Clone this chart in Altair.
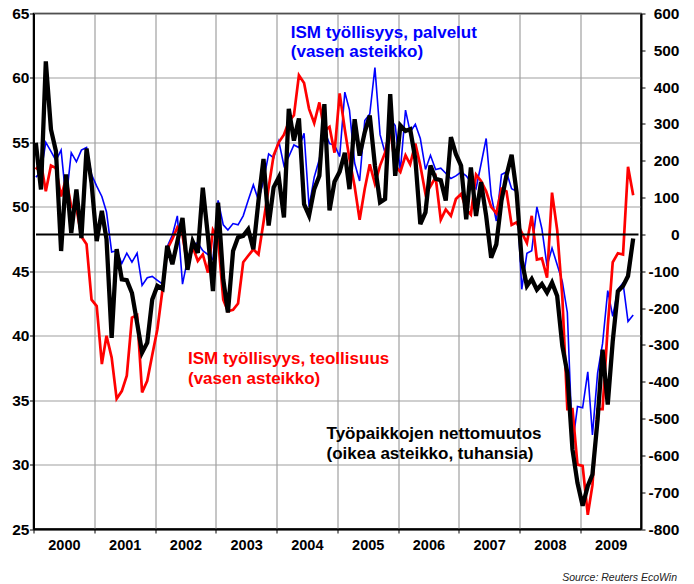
import altair as alt
import pandas as pd

# ISM employment, services (left axis)
ism_services = [
    52.3, 52.7, 55.0, 54.3, 53.6, 54.4, 50.5, 54.2, 53.5, 54.4, 54.6, 52.5,
    51.6, 50.8, 49.6, 46.5, 46.6, 45.6, 46.4, 45.7, 46.4, 43.9, 44.5, 44.6,
    44.3, 44.0, 46.9, 47.8, 49.3, 44.0, 45.9, 47.1, 47.2, 46.6, 46.3, 45.9,
    50.5, 48.6, 48.2, 48.7, 48.6, 49.3, 50.5, 51.7, 50.5, 52.0, 54.1, 53.8,
    55.1, 53.2, 53.9, 54.8, 54.6, 55.7, 50.0, 52.3, 53.7, 55.9, 54.9, 54.8,
    53.9, 58.9, 57.5, 53.4, 52.0, 56.7, 57.2, 60.8, 55.6, 54.2, 56.8, 56.3,
    52.8, 57.5, 55.8, 56.4, 55.3, 52.9, 54.0, 52.9, 53.0, 52.6, 52.2, 52.4,
    52.7, 52.4, 51.9, 51.4, 53.3, 55.3, 50.9, 48.9, 52.5, 52.7, 51.4, 51.2,
    43.6, 46.4, 46.6, 50.0, 48.3, 45.4, 46.8, 45.5, 44.2, 41.8, 31.5, 34.5,
    34.4, 37.2, 32.3, 37.1, 39.4, 43.5, 41.5, 43.6, 44.1, 41.1, 41.6,
]

# ISM employment, manufacturing (left axis)
ism_manufacturing = [
    52.9, 53.4, 51.2, 53.2, 53.0, 50.8, 52.2, 50.0, 49.9, 47.7, 47.1, 42.8,
    42.3, 37.8, 40.0, 38.3, 35.1, 35.7, 36.9, 41.4, 41.6, 35.6, 36.5, 38.5,
    40.5, 43.6, 46.7, 47.5, 48.4, 47.8, 45.4, 46.9, 45.8, 46.3, 44.9, 48.2,
    47.5, 42.8, 41.9, 42.0, 42.5, 45.7, 46.2, 46.7, 46.3, 48.8, 51.5, 54.0,
    55.0, 55.6, 56.6, 57.1, 60.2, 59.6, 57.6, 56.5, 58.1, 55.9, 56.2, 54.2,
    58.8, 56.0, 53.7, 51.6, 49.0, 51.4, 53.3, 51.8, 53.2, 54.2, 56.0, 53.2,
    52.7, 54.0, 53.3, 54.9, 53.2, 51.0, 51.6, 52.3, 49.0, 49.8, 49.3, 50.6,
    51.0, 49.8, 49.4, 52.5, 52.0, 51.2, 50.0, 49.5, 51.4, 51.2, 48.6, 48.8,
    48.0, 47.2, 49.3, 45.9, 46.0, 44.5, 51.1, 48.2, 43.0, 34.3, 34.3, 30.0,
    29.9, 26.1, 28.4, 34.3, 34.3, 40.7, 45.7, 46.4, 46.3, 53.1, 50.9,
]

# Net change in payrolls, thousands (right axis)
payrolls = [
    249, 122, 470, 285, 226, -45, 163, 4, 122, -10, 233, 140,
    -18, 64, -13, -281, -40, -122, -124, -159, -240, -321, -294, -177,
    -140, -148, -31, -81, -19, 45, -96, -19, -50, 127, -5, -154,
    86, -122, -212, -45, -8, -4, 14, -40, 92, 205, 24, 128,
    155, 46, 341, 255, 315, 82, 51, 123, 159, 354, 65, 143,
    170, 222, 123, 313, 214, 278, 323, 187, 87, 96, 381, 159,
    296, 281, 286, 205, 28, 60, 187, 151, 147, 92, 264, 218,
    187, 41, 182, 50, 142, 50, -63, -27, 92, 160, 216, 114,
    -72, -140, -121, -150, -135, -158, -131, -167, -303, -376, -584, -675,
    -737, -683, -652, -503, -313, -462, -290, -154, -140, -113, -11,
]

years = list(range(2000, 2010))
left_ticks = list(range(25, 70, 5))
right_ticks = list(range(-800, 700, 100))

dates = pd.date_range("2000-01-01", periods=len(payrolls), freq="MS") + pd.Timedelta(days=14)
df = pd.DataFrame({
    "date": dates,
    "services": ism_services,
    "manufacturing": ism_manufacturing,
    "payrolls": payrolls,
})
long = df.melt(id_vars=["date"], value_vars=["services", "manufacturing"],
               var_name="series", value_name="value")

W, H = 607.5, 515.5
FONT = "Liberation Sans"

x_enc = alt.X(
    "date:T",
    scale=alt.Scale(domain=[alt.DateTime(year=2000, month=1, date=1),
                            alt.DateTime(year=2010, month=1, date=1)]),
    axis=alt.Axis(
        title=None, format="%Y",
        values=[alt.DateTime(year=y, month=1, date=1) for y in years],
        labelOffset=W / 20, labelFlush=False, labelOverlap=False,
        grid=True, tickSize=4, labelPadding=5.5, labelFontSize=14.5,
        domainWidth=2,
    ),
)

left_scale = alt.Scale(domain=[25, 65], nice=False, zero=False)
left_axis = alt.Axis(
    title=None, values=left_ticks, grid=True, tickSize=4, labelPadding=0.5,
    labelFontSize=15.5, domainWidth=2,
)

right_scale = alt.Scale(domain=[-800, 600], nice=False, zero=False)
right_axis = alt.Axis(
    title=None, orient="right", values=right_ticks, grid=False, tickSize=4,
    labelAlign="right", labelPadding=34, labelFontSize=15.5, domainWidth=2,
    labelExpr="datum.value < 0 ? '-' + abs(datum.value) : '' + datum.value",
)

blue = alt.Chart(long).transform_filter(alt.datum.series == "services").mark_line(
    color="#0000ff", strokeWidth=1.6
).encode(x=x_enc, y=alt.Y("value:Q", scale=left_scale, axis=left_axis))

red = alt.Chart(long).transform_filter(alt.datum.series == "manufacturing").mark_line(
    color="#ff0000", strokeWidth=2.7
).encode(x=x_enc, y=alt.Y("value:Q", scale=left_scale, axis=left_axis))

ann = pd.DataFrame({
    "date": ["2004-03-27", "2004-03-27", "2002-07-18", "2002-07-18", "2004-10-28", "2004-10-28"],
    "value": [63.49, 62.02, 38.22, 36.67, 32.38, 30.83],
    "label": ["ISM työllisyys, palvelut", "(vasen asteikko)",
              "ISM työllisyys, teollisuus", "(vasen asteikko)",
              "Työpaikkojen nettomuutos", "(oikea asteikko, tuhansia)"],
    "color": ["#0000ff", "#0000ff", "#ff0000", "#ff0000", "#000000", "#000000"],
})
texts = alt.Chart(ann).mark_text(
    align="left", baseline="middle", font=FONT, fontSize=17, fontWeight="bold"
).encode(
    x=alt.X("date:T"),
    y=alt.Y("value:Q", scale=left_scale, axis=left_axis),
    text="label:N",
    color=alt.Color("color:N", scale=None),
)

left = alt.layer(blue, red, texts)

zero = alt.Chart(pd.DataFrame({"v": [0]})).mark_rule(color="black", strokeWidth=2).encode(
    y=alt.Y("v:Q", scale=right_scale, axis=right_axis),
    x=alt.value(2.5), x2=alt.value(W - 2.5),
)

black = alt.Chart(df).mark_line(color="black", strokeWidth=4.3).encode(
    x=x_enc, y=alt.Y("payrolls:Q", scale=right_scale, axis=right_axis)
)

source = alt.Chart(pd.DataFrame({"t": ["Source: Reuters EcoWin"]})).mark_text(
    align="right", baseline="middle", font=FONT, fontSize=10.5, fontStyle="italic",
    color="#222222",
).encode(text="t:N", x=alt.value(W + 36), y=alt.value(H + 49))

right = alt.layer(zero, black, source)

chart = alt.layer(left, right).resolve_scale(y="independent").properties(
    width=W, height=H,
    padding={"left": 25.5, "top": 5.5, "right": 45, "bottom": 55},
    autosize=alt.AutoSizeParams(type="none"),
).configure_view(
    stroke="black", strokeWidth=1.5
).configure_axis(
    labelFont=FONT, labelFontWeight="bold", labelColor="black",
    domainColor="black", tickColor="black", gridColor="#a0a0a0", gridWidth=1.2,
)

chart.save("out.html", embed_options={"renderer": "svg", "actions": False})
